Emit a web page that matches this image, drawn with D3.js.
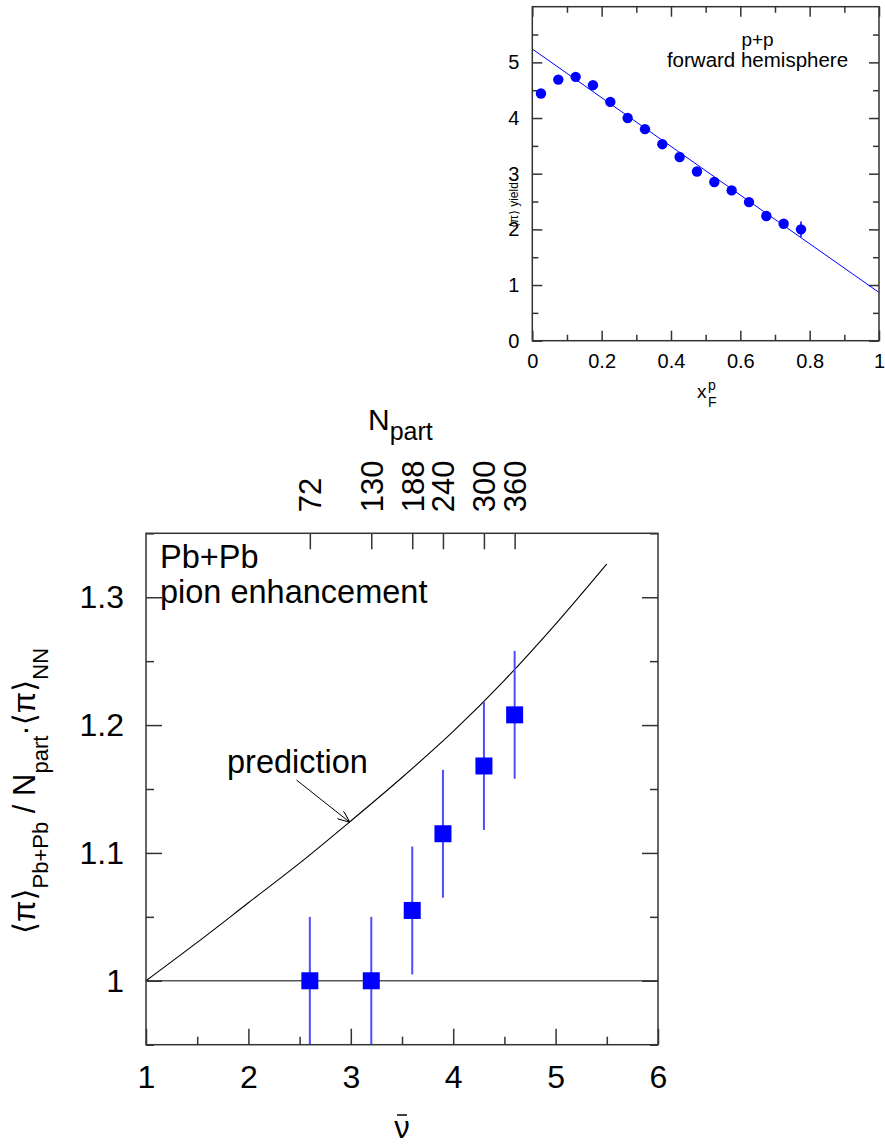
<!DOCTYPE html>
<html>
<head>
<meta charset="utf-8">
<script src="https://cdn.jsdelivr.net/npm/d3@7"></script>
<style>
  body { margin: 0; background: #fff; }
  svg { display: block; }
  text { font-family: "Liberation Sans", Arial, "DejaVu Sans", sans-serif; fill: #000; }
</style>
</head>
<body>
<div id="chart"></div>
<script>
// ---- inset: p+p forward hemisphere ----
const ppX = [0.025, 0.075, 0.125, 0.175, 0.225, 0.275, 0.325, 0.375, 0.425, 0.475, 0.525, 0.575, 0.625, 0.675, 0.725, 0.775];
const ppY = [4.44, 4.69, 4.74, 4.59, 4.29, 4.0, 3.8, 3.53, 3.3, 3.04, 2.85, 2.7, 2.49, 2.24, 2.1, 2.0];
const ppErr = [0, 0, 0, 0, 0, 0, 0, 0, 0, 0, 0, 0, 0, 0, 0, 0.14];
const ppFitX = [0, 1];
const ppFitY = [5.24, 0.867];
const ppXTicks = [0, 0.2, 0.4, 0.6, 0.8, 1];
const ppXMinor = [0.1, 0.3, 0.5, 0.7, 0.9];
const ppYTicks = [0, 1, 2, 3, 4, 5];
const ppYMinor = [0.5, 1.5, 2.5, 3.5, 4.5, 5.5];

// ---- main: Pb+Pb pion enhancement ----
const nuBar = [2.6, 3.2, 3.6, 3.9, 4.3, 4.6];
const ratio = [1.0, 1.0, 1.055, 1.115, 1.168, 1.208];
const ratioErr = [0.05, 0.05, 0.05, 0.05, 0.05, 0.05];
const nPart = [72, 130, 188, 240, 300, 360];
const predNu = [1, 1.5, 2, 2.5, 3, 3.5, 4, 4.5, 5, 5.5];
const predY = [1, 1.030, 1.061, 1.092, 1.125, 1.159, 1.195, 1.235, 1.279, 1.326];
const nuTicks = [1, 2, 3, 4, 5, 6];
const nuMinor = [1.5, 2.5, 3.5, 4.5, 5.5];
const ratioTicks = [1, 1.1, 1.2, 1.3];
const ratioMinor = [0.95, 1.05, 1.15, 1.25, 1.35];

const W = 885, H = 1147;
const svg = d3.select("#chart").append("svg").attr("width", W).attr("height", H);

const frameColor = "#333";

// style an axis group: hide domain, colour the ticks
function styleAxis(g, fontSize) {
  g.select(".domain").remove();
  g.selectAll(".tick line").attr("stroke", frameColor).attr("stroke-width", 1.5);
  g.selectAll("text").style("font-size", fontSize + "px").attr("fill", "#000");
  g.attr("font-family", null).attr("font-size", null);
}

// ================= inset =================
const inL = 532.3, inR = 879, inT = 6.7, inB = 340.7;
const ix = d3.scaleLinear().domain([0, 1]).range([inL, inR]);
const iy = d3.scaleLinear().domain([0, 6]).range([inB, inT]);

// ticks (inward on all four sides)
svg.append("g").attr("transform", `translate(0,${inB})`)
  .call(d3.axisBottom(ix).tickValues(ppXTicks).tickSize(-10).tickPadding(13).tickFormat(d3.format("~g")))
  .call(g => styleAxis(g, 20));
svg.append("g").attr("transform", `translate(0,${inB})`)
  .call(d3.axisBottom(ix).tickValues(ppXMinor).tickSize(-6).tickFormat(""))
  .call(g => styleAxis(g, 20));
svg.append("g").attr("transform", `translate(0,${inT})`)
  .call(d3.axisTop(ix).tickValues(ppXTicks).tickSize(-10).tickFormat(""))
  .call(g => styleAxis(g, 20));
svg.append("g").attr("transform", `translate(0,${inT})`)
  .call(d3.axisTop(ix).tickValues(ppXMinor).tickSize(-6).tickFormat(""))
  .call(g => styleAxis(g, 20));
svg.append("g").attr("transform", `translate(${inL},0)`)
  .call(d3.axisLeft(iy).tickValues(ppYTicks).tickSize(-10).tickPadding(13).tickFormat(d3.format("d")))
  .call(g => styleAxis(g, 20));
svg.append("g").attr("transform", `translate(${inL},0)`)
  .call(d3.axisLeft(iy).tickValues(ppYMinor).tickSize(-6).tickFormat(""))
  .call(g => styleAxis(g, 20));
svg.append("g").attr("transform", `translate(${inR},0)`)
  .call(d3.axisRight(iy).tickValues(ppYTicks).tickSize(-10).tickFormat(""))
  .call(g => styleAxis(g, 20));
svg.append("g").attr("transform", `translate(${inR},0)`)
  .call(d3.axisRight(iy).tickValues(ppYMinor).tickSize(-6).tickFormat(""))
  .call(g => styleAxis(g, 20));

// fit line
svg.append("line")
  .attr("x1", ix(ppFitX[0])).attr("y1", iy(ppFitY[0]))
  .attr("x2", ix(ppFitX[1])).attr("y2", iy(ppFitY[1]))
  .attr("stroke", "#0000ff").attr("stroke-width", 1);

// points with errors
const ppData = ppX.map((x, i) => ({ x, y: ppY[i], e: ppErr[i] }));
svg.append("g").selectAll("line").data(ppData.filter(d => d.e > 0)).enter().append("line")
  .attr("x1", d => ix(d.x)).attr("x2", d => ix(d.x))
  .attr("y1", d => iy(d.y - d.e)).attr("y2", d => iy(d.y + d.e))
  .attr("stroke", "#0000ff").attr("stroke-width", 1.5);
svg.append("g").selectAll("circle").data(ppData).enter().append("circle")
  .attr("cx", d => ix(d.x)).attr("cy", d => iy(d.y)).attr("r", 5.2)
  .attr("fill", "#0000ff");

// frame
svg.append("rect").attr("x", inL).attr("y", inT).attr("width", inR - inL).attr("height", inB - inT)
  .attr("fill", "none").attr("stroke", frameColor).attr("stroke-width", 1.5);

// labels
svg.append("text").attr("x", 757.5).attr("y", 45.5).attr("text-anchor", "middle")
  .style("font-size", "19px").text("p+p");
svg.append("text").attr("x", 757.5).attr("y", 67).attr("text-anchor", "middle")
  .style("font-size", "20.5px").text("forward hemisphere");
svg.append("text").attr("transform", "translate(518,205) rotate(-90)").attr("text-anchor", "middle")
  .style("font-size", "12px").text("⟨π⟩ yield");
const xf = svg.append("g");
xf.append("text").attr("x", 697).attr("y", 398).style("font-size", "19px").text("x");
xf.append("text").attr("x", 708).attr("y", 407).style("font-size", "14px").text("F");
xf.append("text").attr("x", 708).attr("y", 390).style("font-size", "14px").text("p");

// ================= main =================
const mL = 146, mR = 658, mT = 533.3, mB = 1044.7;
const x = d3.scaleLinear().domain([1, 6]).range([mL, mR]);
const y = d3.scaleLinear().domain([0.95, 1.35]).range([mB, mT]);

// reference line at 1
svg.append("line").attr("x1", x(1)).attr("x2", x(6)).attr("y1", y(1)).attr("y2", y(1))
  .attr("stroke", "#555").attr("stroke-width", 1.5);

// axes
svg.append("g").attr("transform", `translate(0,${mB})`)
  .call(d3.axisBottom(x).tickValues(nuTicks).tickSize(-16).tickPadding(21).tickFormat(d3.format("d")))
  .call(g => styleAxis(g, 32));
svg.append("g").attr("transform", `translate(0,${mB})`)
  .call(d3.axisBottom(x).tickValues(nuMinor).tickSize(-8).tickFormat(""))
  .call(g => styleAxis(g, 32));
svg.append("g").attr("transform", `translate(${mL},0)`)
  .call(d3.axisLeft(y).tickValues(ratioTicks).tickSize(-16).tickPadding(22).tickFormat(d3.format("~g")))
  .call(g => styleAxis(g, 32));
svg.append("g").attr("transform", `translate(${mL},0)`)
  .call(d3.axisLeft(y).tickValues(ratioMinor).tickSize(-8).tickFormat(""))
  .call(g => styleAxis(g, 32));
svg.append("g").attr("transform", `translate(${mR},0)`)
  .call(d3.axisRight(y).tickValues(ratioTicks).tickSize(-16).tickFormat(""))
  .call(g => styleAxis(g, 32));
svg.append("g").attr("transform", `translate(${mR},0)`)
  .call(d3.axisRight(y).tickValues(ratioMinor).tickSize(-8).tickFormat(""))
  .call(g => styleAxis(g, 32));

// top axis: N_part
const topAxis = svg.append("g").attr("transform", `translate(0,${mT})`)
  .call(d3.axisTop(x).tickValues(nuBar).tickSize(-16).tickFormat((d, i) => nPart[i]))
  .call(g => styleAxis(g, 31));
topAxis.selectAll(".tick text")
  .attr("transform", "rotate(-90)")
  .attr("x", 21).attr("y", 0).attr("dy", "0.35em")
  .attr("text-anchor", "start");

// prediction curve
const pred = predNu.map((n, i) => [n, predY[i]]);
svg.append("path").datum(pred)
  .attr("d", d3.line().x(d => x(d[0])).y(d => y(d[1])).curve(d3.curveMonotoneX))
  .attr("fill", "none").attr("stroke", "#000").attr("stroke-width", 1.1);

// data: error bars + squares
const pb = nuBar.map((n, i) => ({ n, r: ratio[i], e: ratioErr[i] }));
svg.append("g").selectAll("line").data(pb).enter().append("line")
  .attr("x1", d => x(d.n)).attr("x2", d => x(d.n))
  .attr("y1", d => y(Math.max(d.r - d.e, 0.95))).attr("y2", d => y(d.r + d.e))
  .attr("stroke", "#4d4dff").attr("stroke-width", 2);
const sq = 17;
svg.append("g").selectAll("rect").data(pb).enter().append("rect")
  .attr("x", d => x(d.n) - sq / 2).attr("y", d => y(d.r) - sq / 2)
  .attr("width", sq).attr("height", sq).attr("fill", "#0000ff");

// frame
svg.append("rect").attr("x", mL).attr("y", mT).attr("width", mR - mL).attr("height", mB - mT)
  .attr("fill", "none").attr("stroke", frameColor).attr("stroke-width", 1.5);

// annotation texts
svg.append("text").attr("x", 160).attr("y", 568).style("font-size", "32.5px").text("Pb+Pb");
svg.append("text").attr("x", 160).attr("y", 603).style("font-size", "32.5px").text("pion enhancement");
svg.append("text").attr("x", 227).attr("y", 773).style("font-size", "32.5px").text("prediction");

// arrow
svg.append("defs").append("marker")
  .attr("id", "arr").attr("viewBox", "0 0 12 10").attr("refX", 12).attr("refY", 5)
  .attr("markerWidth", 12).attr("markerHeight", 10).attr("markerUnits", "userSpaceOnUse")
  .attr("orient", "auto")
  .append("path").attr("d", "M0,0 L12,5 L0,10").attr("fill", "none").attr("stroke", "#000").attr("stroke-width", 1);
svg.append("line")
  .attr("x1", x(2.47)).attr("y1", y(1.157))
  .attr("x2", x(2.99)).attr("y2", y(1.124))
  .attr("stroke", "#000").attr("stroke-width", 1).attr("marker-end", "url(#arr)");

// y title
const yt = svg.append("text").attr("transform", "translate(35,791) rotate(-90)")
  .attr("text-anchor", "middle").style("font-size", "31px");
yt.append("tspan").text("⟨π⟩");
yt.append("tspan").attr("dy", 13).style("font-size", "22px").text("Pb+Pb");
yt.append("tspan").attr("dy", -13).text(" / N");
yt.append("tspan").attr("dy", 13).style("font-size", "22px").text("part");
yt.append("tspan").attr("dy", -13).text("·⟨π⟩");
yt.append("tspan").attr("dy", 13).style("font-size", "22px").text("NN");

// x title (nu bar)
const xc = x(3.5);
svg.append("text").attr("x", xc).attr("y", 1138).attr("text-anchor", "middle")
  .style("font-size", "31px").text("ν");
svg.append("line").attr("x1", xc - 5).attr("x2", xc + 5).attr("y1", 1115).attr("y2", 1115)
  .attr("stroke", "#000").attr("stroke-width", 1.5);

// top title N_part
svg.append("text").attr("x", 368).attr("y", 430).style("font-size", "30px").text("N")
  .append("tspan").attr("dy", 10).style("font-size", "25px").text("part");
</script>
</body>
</html>
